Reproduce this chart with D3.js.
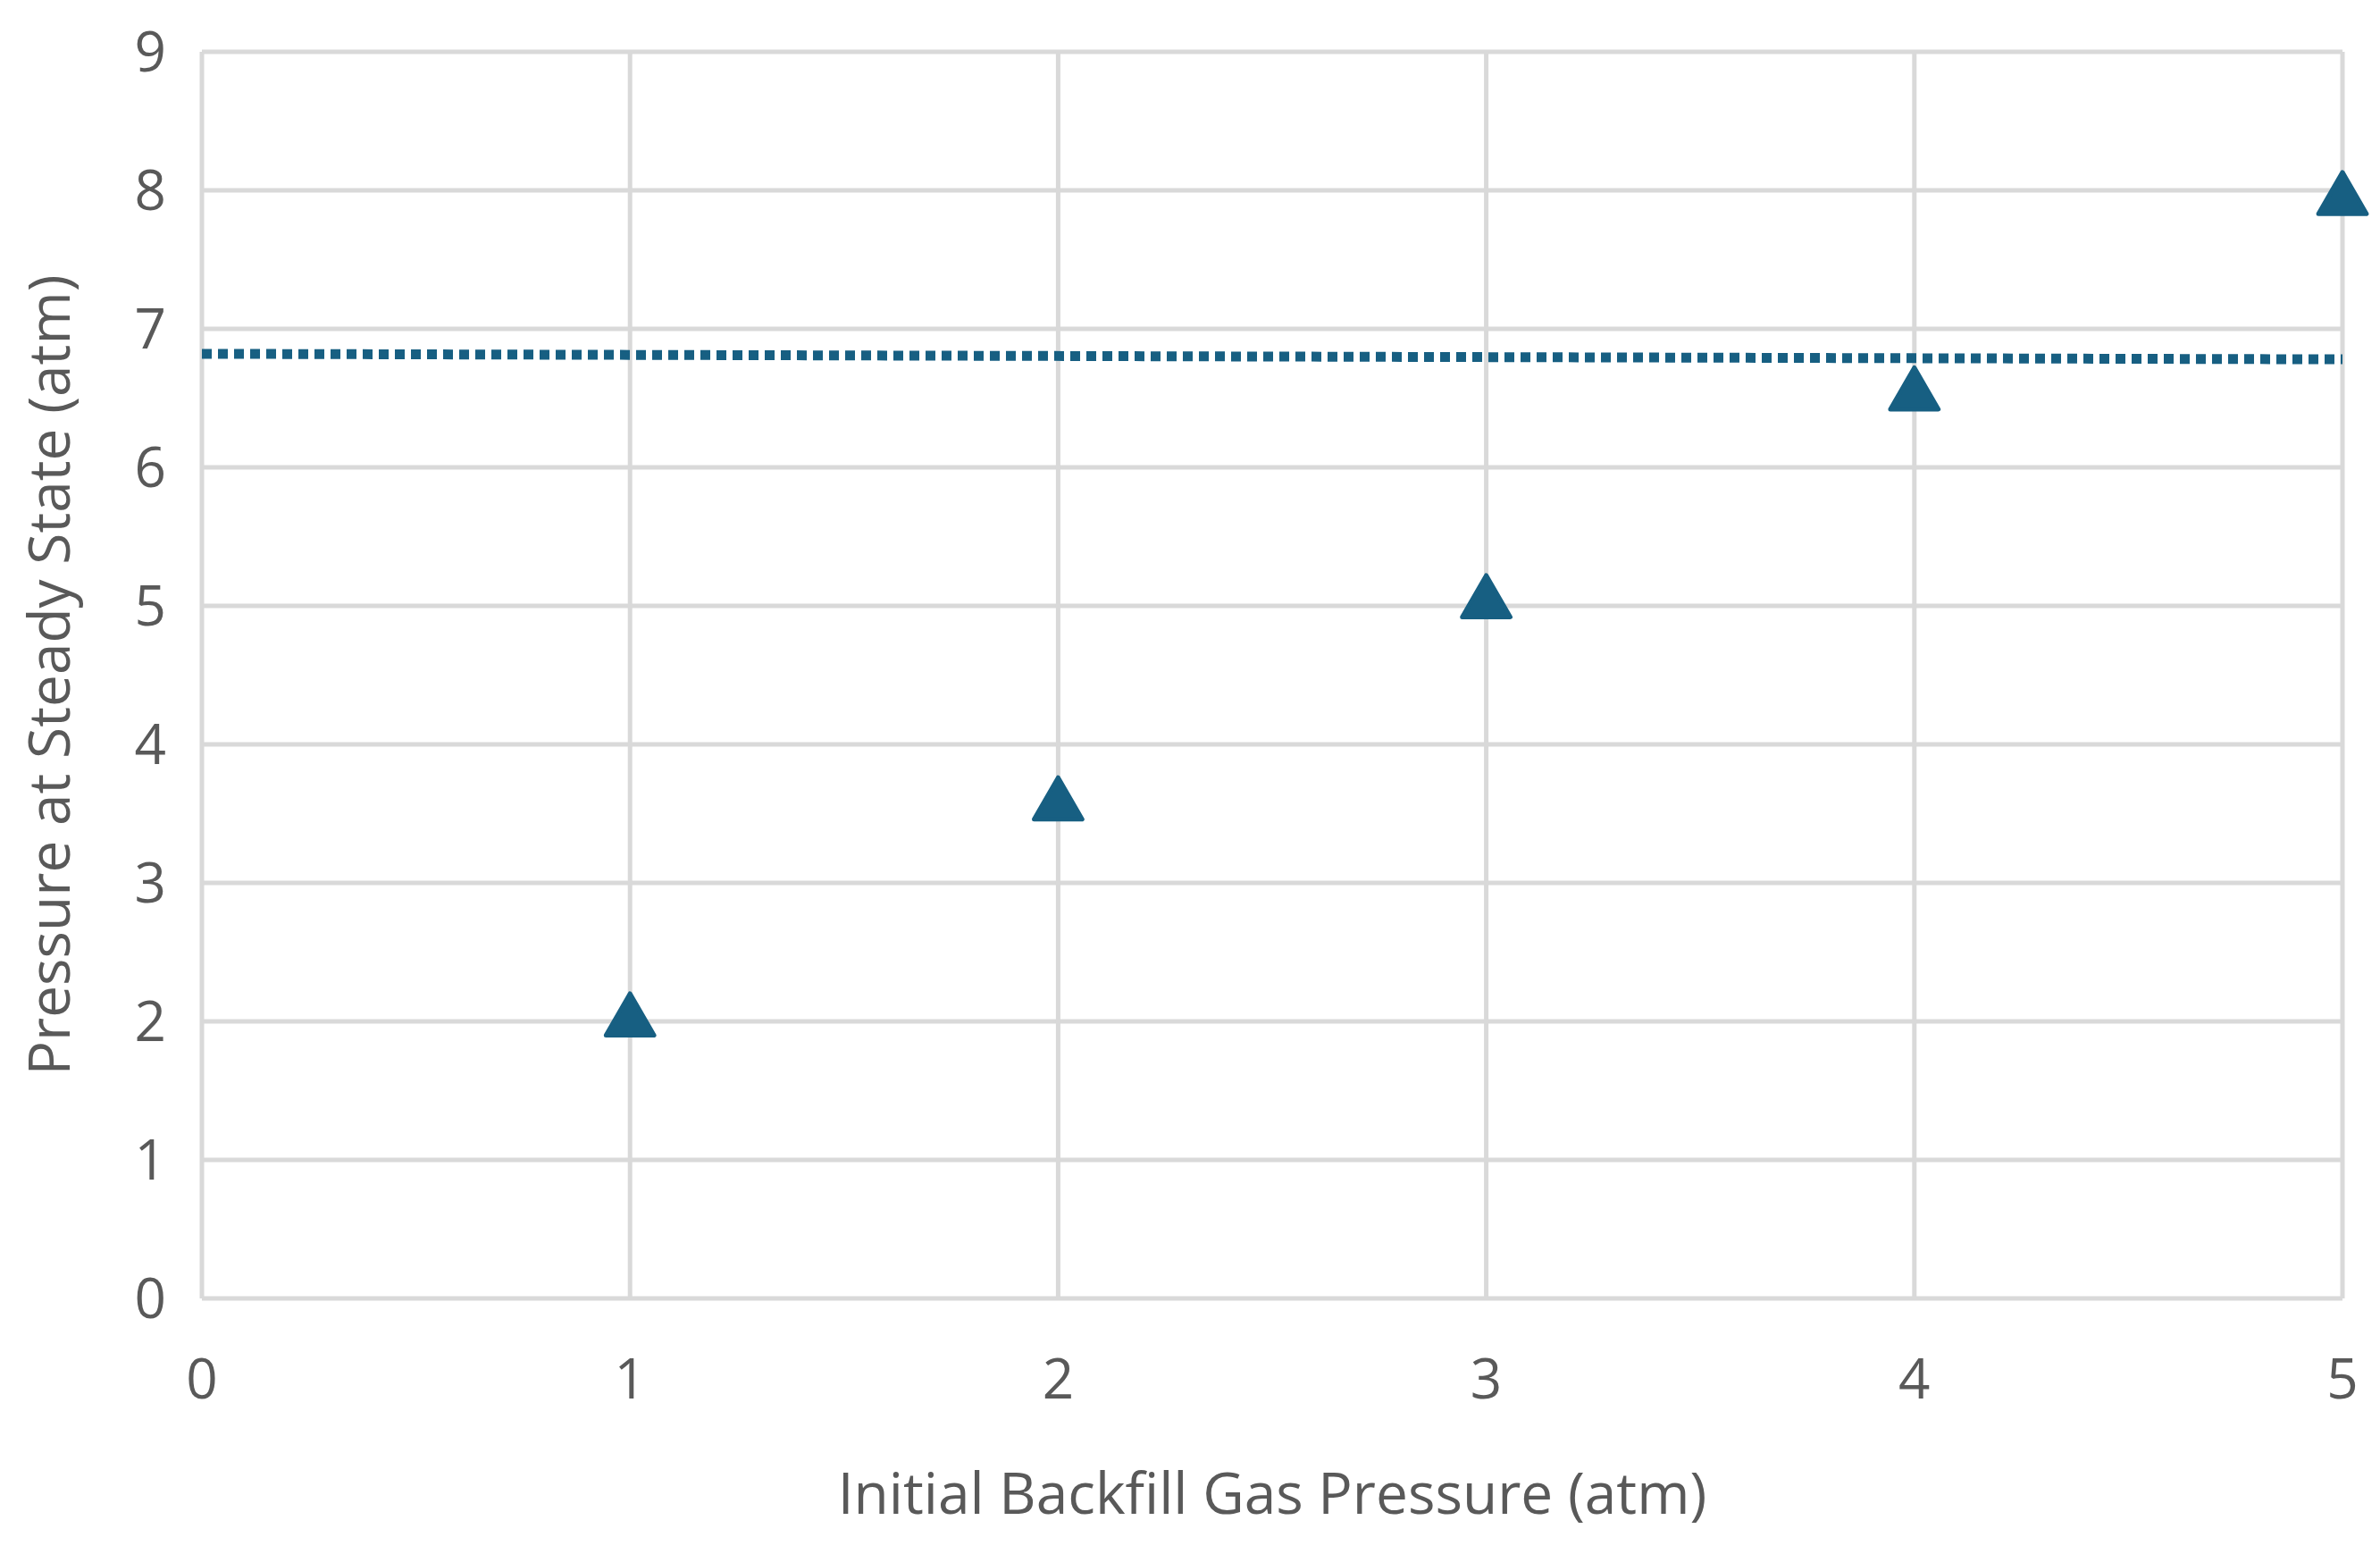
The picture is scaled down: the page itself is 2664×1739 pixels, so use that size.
<!DOCTYPE html>
<html>
<head>
<meta charset="utf-8">
<script src="https://cdn.jsdelivr.net/npm/d3@7"></script>
<style>
  body { margin: 0; background: #fff; }
  text { font-family: "Open Sans", "Liberation Sans", sans-serif; fill: #595959; }
</style>
</head>
<body>
<svg id="chart" width="2664" height="1739"></svg>
<script>
// data
const xValues = [1, 2, 3, 4, 5];
const yValues = [2.0, 3.56, 5.02, 6.52, 7.93];
const trendX = [0, 5];
const trendY = [6.82, 6.78];
const xTicks = [0, 1, 2, 3, 4, 5];
const yTicks = [0, 1, 2, 3, 4, 5, 6, 7, 8, 9];

const width = 2664, height = 1739;
const margin = { top: 58, right: 42, bottom: 286, left: 226 };
const color = "#175f82";

const svg = d3.select("#chart");

const x = d3.scaleLinear().domain([0, 5]).range([margin.left, width - margin.right]);
const y = d3.scaleLinear().domain([0, 9]).range([height - margin.bottom, margin.top]);

// grid
svg.append("g").selectAll("line.h")
  .data(yTicks)
  .join("line")
  .attr("x1", x(0)).attr("x2", x(5))
  .attr("y1", d => y(d)).attr("y2", d => y(d))
  .attr("stroke", "#d9d9d9").attr("stroke-width", 5);

svg.append("g").selectAll("line.v")
  .data(xTicks)
  .join("line")
  .attr("x1", d => x(d)).attr("x2", d => x(d))
  .attr("y1", y(0)).attr("y2", y(9))
  .attr("stroke", "#d9d9d9").attr("stroke-width", 5);

// tick labels
svg.append("g").selectAll("text")
  .data(yTicks)
  .join("text")
  .attr("x", x(0) - 40)
  .attr("y", d => y(d))
  .attr("dy", "0.35em")
  .attr("text-anchor", "end")
  .style("font-size", "62px")
  .text(d => d);

svg.append("g").selectAll("text")
  .data(xTicks)
  .join("text")
  .attr("x", d => x(d))
  .attr("y", y(0) + 112)
  .attr("text-anchor", "middle")
  .style("font-size", "62px")
  .text(d => d);

// axis titles
svg.append("text")
  .attr("x", (x(0) + x(5)) / 2)
  .attr("y", height - 45)
  .attr("text-anchor", "middle")
  .style("font-size", "64px")
  .text("Initial Backfill Gas Pressure (atm)");

svg.append("text")
  .attr("transform", `translate(78,${(y(0) + y(9)) / 2}) rotate(-90)`)
  .attr("text-anchor", "middle")
  .style("font-size", "64px")
  .text("Pressure at Steady State (atm)");

// trendline
const line = d3.line().x(d => x(d[0])).y(d => y(d[1]));
svg.append("path")
  .datum(trendX.map((d, i) => [d, trendY[i]]))
  .attr("d", line)
  .attr("fill", "none")
  .attr("stroke", color)
  .attr("stroke-width", 11)
  .attr("stroke-dasharray", "11,7");

// markers
const tri = d3.symbol().type(d3.symbolTriangle).size(1250);
svg.append("g").selectAll("path")
  .data(xValues.map((d, i) => [d, yValues[i]]))
  .join("path")
  .attr("transform", d => `translate(${x(d[0])},${y(d[1])})`)
  .attr("d", tri)
  .attr("fill", color)
  .attr("stroke", color)
  .attr("stroke-width", 5)
  .attr("stroke-linejoin", "round");
</script>
</body>
</html>
